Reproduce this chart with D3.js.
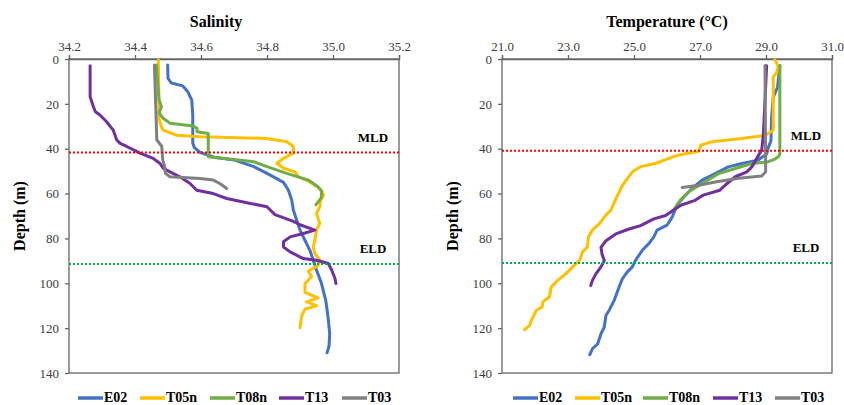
<!DOCTYPE html>
<html>
<head>
<meta charset="utf-8">
<script src="https://cdn.jsdelivr.net/npm/d3@7"></script>
<style>
  body { margin: 0; background: #fff; }
  svg text { font-family: "Liberation Serif", "Times New Roman", serif !important; }
</style>
</head>
<body>
<script>
//-----------------Data (depth m, value)----------------

const stations = ["E02", "T05n", "T08n", "T13", "T03"];
const colors = ["#4472C4", "#FFC000", "#70AD47", "#7030A0", "#808080"];

const salE02 = [[2.7,34.499],[8.6,34.5],[10.7,34.51],[12,34.545],[14.6,34.56],[18.3,34.572],[25,34.575],[37.6,34.575],[39.5,34.58],[41.6,34.597],[43.8,34.64],[45,34.70],[48,34.76],[51,34.80],[55,34.85],[58.5,34.865],[63,34.875],[67.4,34.88],[71.9,34.89],[76.3,34.9],[80.8,34.915],[85.3,34.93],[89.7,34.94],[94.1,34.95],[100,34.965],[107.6,34.978],[115,34.985],[122.4,34.99],[128,34.988],[131,34.982]];
const salT05n = [[0.5,34.471],[27,34.473],[30,34.48],[31.7,34.485],[34,34.527],[34.7,34.597],[35.4,34.80],[36.9,34.86],[39,34.88],[42,34.88],[44.3,34.85],[46.5,34.83],[48.7,34.85],[50.3,34.885],[52.5,34.895],[54.8,34.93],[57.7,34.96],[60.7,34.972],[63,34.962],[65.9,34.96],[68.9,34.95],[73.3,34.96],[76.3,34.95],[80.8,34.945],[83.8,34.94],[86.7,34.945],[89.7,34.96],[92,34.955],[94.6,34.925],[97,34.935],[100.2,34.915],[104,34.915],[106.5,34.955],[108.3,34.92],[110,34.95],[111.6,34.915],[114.6,34.905],[119.8,34.9]];
const salT08n = [[2.7,34.465],[18.3,34.473],[21.3,34.48],[24,34.473],[26.4,34.485],[28.6,34.506],[29.9,34.577],[30.9,34.588],[32.4,34.588],[33.2,34.622],[43.6,34.622],[44.8,34.70],[45.8,34.76],[48,34.80],[51,34.86],[54,34.925],[57,34.955],[59,34.966],[62,34.964],[65,34.948]];
const salT13 = [[3,34.264],[16.8,34.264],[21.3,34.274],[23.5,34.28],[25,34.294],[28,34.314],[31.7,34.334],[36.2,34.345],[37.6,34.355],[39,34.375],[42,34.415],[44.3,34.455],[46.6,34.476],[48.8,34.486],[50.3,34.506],[52.5,34.536],[55.5,34.567],[58.5,34.587],[60,34.637],[62.2,34.678],[64.4,34.75],[65.9,34.8],[69.4,34.824],[72.4,34.88],[73.9,34.9],[76.3,34.945],[77.8,34.91],[79.3,34.87],[81.5,34.85],[83.8,34.85],[86,34.87],[89,34.91],[89.7,34.95],[91.2,34.986],[94.1,34.996],[97.9,35.006],[100.1,35.009]];
const salT03 = [[2.7,34.459],[36,34.466],[39,34.481],[45,34.484],[48,34.49],[51,34.492],[52.5,34.506],[53.3,34.597],[54,34.637],[55.5,34.657],[57.7,34.678]];

const tmpE02 = [[2.9,29.42],[12.6,29.35],[17,29.22],[26,29.17],[36.5,29.15],[39.4,29.07],[42.4,29.02],[43.9,28.87],[45.1,28.77],[46.6,28.27],[48.1,27.86],[51.1,27.46],[54,27.06],[57.7,26.76],[61.5,26.51],[65.2,26.3],[70.4,26.16],[74.1,26.0],[76.3,25.7],[79.3,25.6],[82.3,25.45],[85.3,25.25],[89.7,25.05],[92.7,24.95],[94.9,24.8],[97.9,24.65],[102.4,24.53],[107.6,24.4],[112,24.25],[114.3,24.15],[119.5,24.1],[122.5,24.0],[127,23.9],[129.2,23.74],[131.8,23.66]];
const tmpT05n = [[0.4,29.27],[3.3,29.37],[6.3,29.32],[7.8,29.22],[31.7,29.22],[32.5,29.15],[34,28.97],[35.4,28.27],[36.9,27.36],[38.4,27.03],[41.3,26.95],[42.4,26.5],[43.5,26.2],[46.6,25.65],[48,25.2],[50.3,24.95],[53.3,24.8],[56.3,24.65],[60.8,24.5],[63,24.43],[67.4,24.3],[69.6,24.15],[73.4,23.95],[76.3,23.74],[79.3,23.62],[83.8,23.59],[86,23.44],[89.7,23.36],[92,23.19],[95.7,22.94],[98.7,22.69],[101.7,22.49],[106,22.44],[108.3,22.24],[110.5,22.22],[112,22.04],[116.5,21.89],[118.8,21.84],[120.7,21.68]];
const tmpT08n = [[2.9,29.42],[42.4,29.42],[43.5,29.38],[44.6,29.27],[45.8,29.07],[46.6,28.57],[48.8,28.07],[51.1,27.56],[55.5,27.06],[59.2,26.66],[63,26.4],[67.4,26.2]];
const tmpT13 = [[3,29.02],[33.5,28.92],[40.6,28.87],[44.3,28.72],[48.1,28.57],[50.3,28.42],[52.5,28.07],[56.3,27.76],[58.5,27.6],[60.7,27.1],[63,26.85],[65.2,26.42],[66.8,26.26],[69.8,25.96],[71.3,25.6],[74.3,25.2],[75.8,24.85],[78,24.45],[81,24.15],[84,24.0],[86.9,24.03],[89.9,24.1],[92.7,24.0],[95.7,23.85],[98.7,23.74],[101,23.69]];
const tmpT03 = [[2.9,28.97],[50.3,28.99],[52.2,28.87],[53.2,28.17],[54.8,27.46],[56.3,26.96],[57.3,26.46]];

const salTicks = [34.2, 34.4, 34.6, 34.8, 35.0, 35.2];
const tmpTicks = [21, 23, 25, 27, 29, 31];
const depthTicks = [0, 20, 40, 60, 80, 100, 120, 140];

const salMLD = 41.7, salELD = 91.4;
const tmpMLD = 40.9, tmpELD = 90.9;

//-----------------Main svg ------------------

const width = 844, height = 405;
const svg = d3.select("body").append("svg").attr("width", width).attr("height", height);

const axisColor = "#666666";
const serif = "'Liberation Serif', 'Times New Roman', serif";

function panel(opt) {
  const x = d3.scaleLinear().domain(opt.domain).range([opt.left, opt.right]);
  const y = d3.scaleLinear().domain([0, 140]).range([59, 373]);
  const g = svg.append("g").attr("font-family", serif);

  // title
  g.append("text")
    .attr("x", opt.titleX)
    .attr("y", 27)
    .attr("text-anchor", "middle")
    .style("font-size", "16px")
    .style("font-weight", "bold")
    .text(opt.title);

  // top axis
  const top = g.append("g")
    .attr("transform", "translate(0," + y(0) + ")")
    .call(d3.axisTop(x).tickValues(opt.ticks).tickSize(4).tickPadding(4).tickFormat(d3.format(".1f")));
  top.attr("font-family", serif);
  top.selectAll("path, line").attr("stroke", axisColor).attr("stroke-width", 1.3);
  top.selectAll("text").style("font-size", "13px").attr("fill", "#404040");

  // left axis
  const leftAx = g.append("g")
    .attr("transform", "translate(" + opt.left + ",0)")
    .call(d3.axisLeft(y).tickValues(depthTicks).tickSize(4).tickPadding(6));
  leftAx.attr("font-family", serif);
  leftAx.select("path").remove();
  leftAx.selectAll("line").attr("stroke", axisColor).attr("stroke-width", 1.3);
  leftAx.selectAll("text").style("font-size", "13px").attr("fill", "#404040");

  // frame
  g.append("rect")
    .attr("x", opt.left).attr("y", y(0))
    .attr("width", opt.right - opt.left).attr("height", y(140) - y(0))
    .attr("fill", "none").attr("stroke", axisColor).attr("stroke-width", 1.3);

  // y label
  g.append("text")
    .attr("transform", "translate(" + (opt.left - 44) + "," + (y(70)) + ") rotate(-90)")
    .attr("text-anchor", "middle")
    .style("font-size", "16px")
    .style("font-weight", "bold")
    .text("Depth (m)");

  // profiles
  const line = d3.line().x((d) => x(d[1])).y((d) => y(d[0]));
  opt.series.forEach((s, i) => {
    g.append("path")
      .datum(s)
      .attr("d", line)
      .attr("fill", "none")
      .attr("stroke", colors[i])
      .attr("stroke-width", 3)
      .attr("stroke-linejoin", "round")
      .attr("stroke-linecap", "round");
  });

  // MLD / ELD lines
  [[opt.mld, "#FF0000", "MLD"], [opt.eld, "#00B050", "ELD"]].forEach((m) => {
    g.append("line")
      .attr("x1", opt.left).attr("x2", opt.right)
      .attr("y1", y(m[0])).attr("y2", y(m[0]))
      .attr("stroke", m[1])
      .attr("stroke-width", 2)
      .attr("stroke-dasharray", "2,2");
    g.append("text")
      .attr("x", opt.right - 26)
      .attr("y", y(m[0]) - 11)
      .attr("text-anchor", "middle")
      .style("font-size", "13px")
      .style("font-weight", "bold")
      .text(m[2]);
  });

  // legend
  const legend = g.append("g");
  opt.legendX.forEach((lx, i) => {
    legend.append("line")
      .attr("x1", lx).attr("x2", lx + 25)
      .attr("y1", 398).attr("y2", 398)
      .attr("stroke", colors[i])
      .attr("stroke-width", 3.5);
    legend.append("text")
      .attr("x", lx + 26)
      .attr("y", 402)
      .style("font-size", "14px")
      .style("font-weight", "bold")
      .text(stations[i]);
  });
}

panel({
  title: "Salinity",
  titleX: 216,
  domain: [34.2, 35.2],
  ticks: salTicks,
  left: 69, right: 399,
  series: [salE02, salT05n, salT08n, salT13, salT03],
  mld: salMLD, eld: salELD,
  legendX: [78, 140, 210, 279, 342]
});

panel({
  title: "Temperature (°C)",
  titleX: 667,
  domain: [21, 31],
  ticks: tmpTicks,
  left: 502, right: 832,
  series: [tmpE02, tmpT05n, tmpT08n, tmpT13, tmpT03],
  mld: tmpMLD, eld: tmpELD,
  legendX: [513, 575, 643, 713, 775]
});
</script>
</body>
</html>
